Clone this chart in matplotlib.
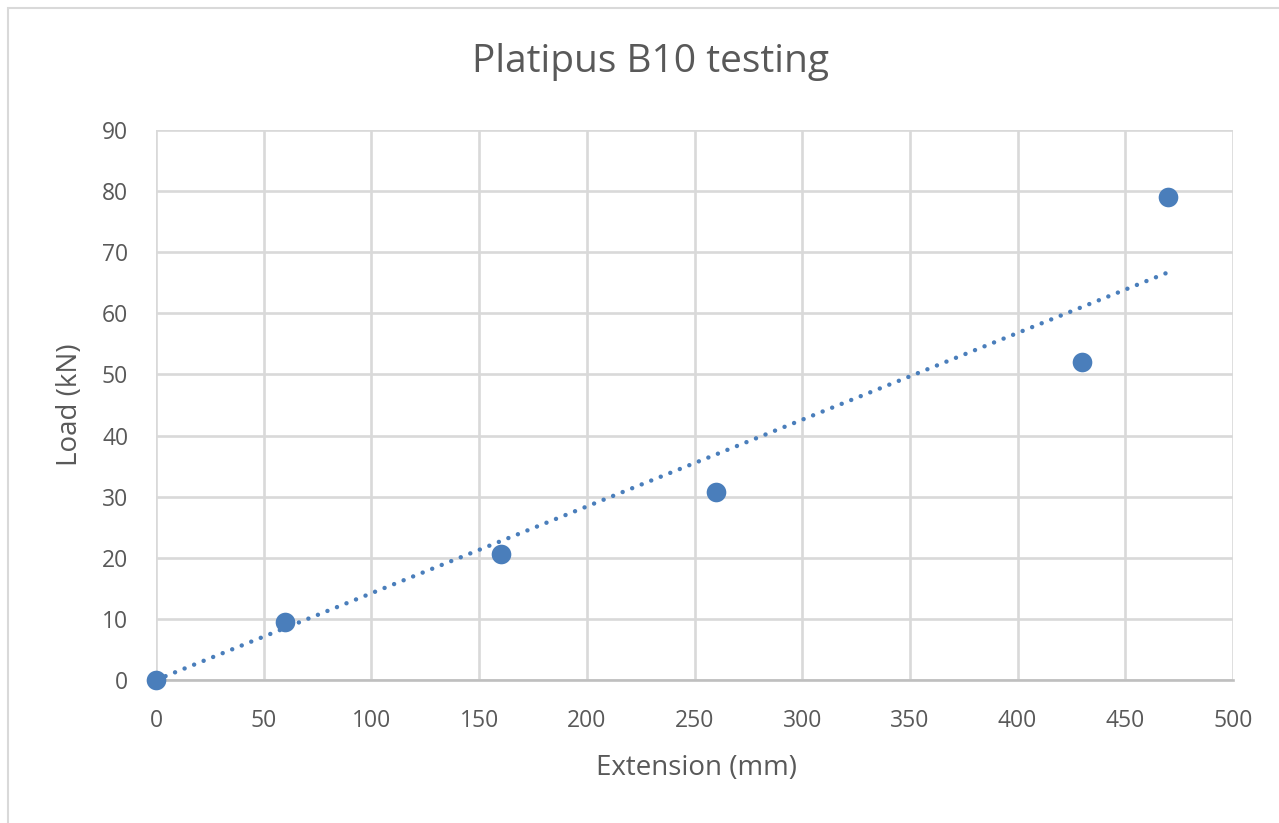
import numpy as np
import matplotlib
matplotlib.use("Agg")
import matplotlib.pyplot as plt
from matplotlib.patches import Rectangle

extension = [0, 60, 160, 260, 430, 470]
load = [0, 9.5, 20.7, 30.7, 52, 79]
x_ticks = [0, 50, 100, 150, 200, 250, 300, 350, 400, 450, 500]
y_ticks = [0, 10, 20, 30, 40, 50, 60, 70, 80, 90]

plt.rcParams['font.family'] = ['Open Sans', 'DejaVu Sans']
W, H = 1279, 823
fig = plt.figure(figsize=(W / 100, H / 100), dpi=100)
ax = fig.add_axes([156 / W, 1 - 680 / H, (1233 - 156) / W, (680 - 130) / H])

txt = '#595959'
blue = '#4a7ebb'

# trendline through origin
xa = np.array(extension, dtype=float)
ya = np.array(load, dtype=float)
slope = (xa * ya).sum() / (xa * xa).sum()
xt = np.array([xa.min(), xa.max()])
ax.plot(xt, slope * xt, linestyle=(0, (0.01, 2.3)), color=blue, linewidth=3.2,
        dash_capstyle='round', zorder=3)

ax.scatter(extension, load, s=200, color=blue, zorder=4, clip_on=False, linewidths=0)

ax.set_xlim(0, 500)
ax.set_ylim(0, 90)
ax.set_xticks(x_ticks)
ax.set_yticks(y_ticks)
ax.grid(True, color='#d9d9d9', linewidth=1.9)
ax.set_axisbelow(True)
for s in ['top', 'right', 'left']:
    ax.spines[s].set_visible(False)
ax.spines['bottom'].set_color('#bfbfbf')
ax.spines['bottom'].set_linewidth(1.9)
ax.tick_params(length=0, labelsize=16.5, colors=txt)
ax.tick_params(axis='x', pad=21)
ax.tick_params(axis='y', pad=20)

fig.text(696 / W, 1 - 768 / H, 'Extension (mm)', fontsize=20, color=txt,
         ha='center', va='center')
fig.text(70 / W, 1 - 405 / H, 'Load (kN)', fontsize=20, color=txt,
         ha='center', va='center', rotation=90)
fig.text(650 / W, 1 - 62 / H, 'Platipus B10 testing', fontsize=28,
         color=txt, ha='center', va='center')

fig.patches.append(Rectangle((8 / W, -0.1), 1.2, 1 - 8 / H + 0.1, transform=fig.transFigure,
                             fill=False, edgecolor='#d9d9d9', linewidth=1.5))

fig.savefig('out.png', dpi=100, facecolor='white')
